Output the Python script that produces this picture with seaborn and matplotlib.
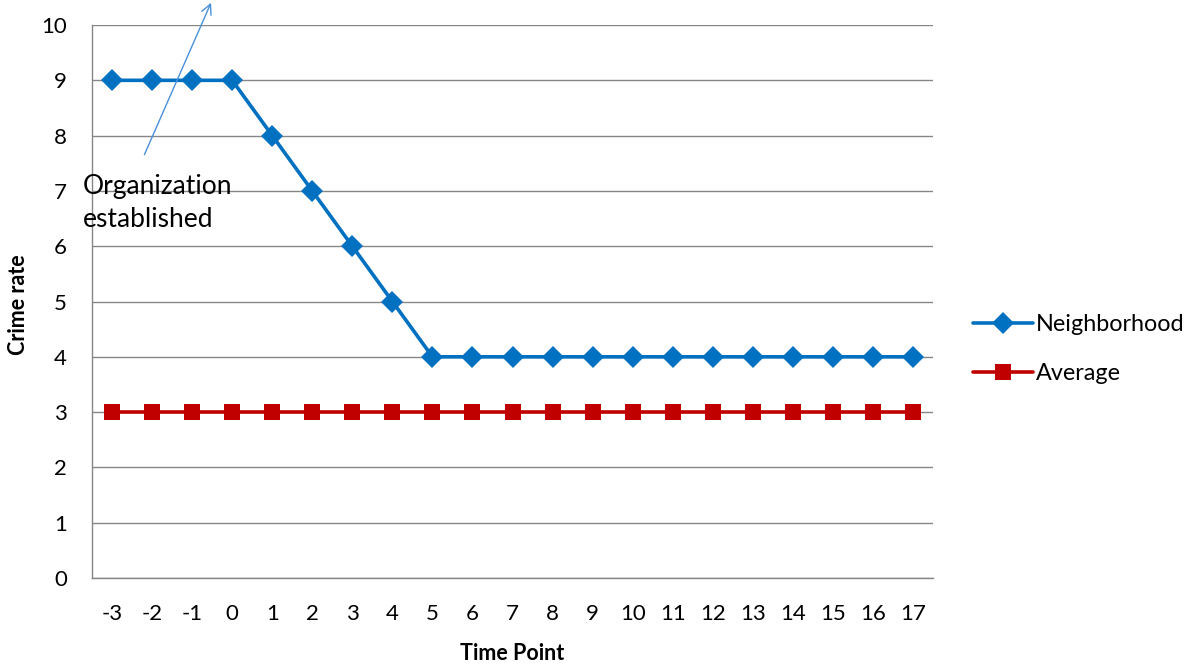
import matplotlib
matplotlib.use("Agg")
import matplotlib.pyplot as plt
import seaborn as sns
import pandas as pd

time_points = [-3, -2, -1, 0, 1, 2, 3, 4, 5, 6, 7, 8, 9, 10, 11, 12, 13, 14, 15, 16, 17]
neighborhood = [9, 9, 9, 9, 8, 7, 6, 5, 4, 4, 4, 4, 4, 4, 4, 4, 4, 4, 4, 4, 4]
average = [3] * 21
series_names = ["Neighborhood", "Average"]

sns.set_theme(style="white")
plt.rcParams['font.family'] = ['Lato', 'DejaVu Sans']
plt.rcParams['text.color'] = 'black'
plt.rcParams['axes.labelcolor'] = 'black'

df = pd.DataFrame({
    "Time Point": time_points * 2,
    "Crime rate": neighborhood + average,
    "Series": [series_names[0]] * len(time_points) + [series_names[1]] * len(time_points),
})

fig = plt.figure(figsize=(11.86, 6.71), dpi=100)
ax = fig.add_axes([0.0776, 0.1386, 0.7091, 0.8241])

palette = {"Neighborhood": "#0070C0", "Average": "#C00000"}
markers = {"Neighborhood": "D", "Average": "s"}
sns.lineplot(data=df, x="Time Point", y="Crime rate", hue="Series", style="Series",
             markers=markers, dashes=False, palette=palette, ax=ax,
             linewidth=2.6, markersize=11, markeredgewidth=0, legend=True)

ax.set_xlim(-3.5, 17.5)
ax.set_ylim(0, 10)
ax.set_yticks(range(0, 11))
ax.set_xticks(time_points)
ax.set_xticklabels([str(t) for t in time_points])
ax.grid(axis="y", color="#868686", linewidth=1)
ax.set_axisbelow(True)
for s in ["top", "right"]:
    ax.spines[s].set_visible(False)
for s in ["left", "bottom"]:
    ax.spines[s].set_color("#868686")
    ax.spines[s].set_linewidth(1)
ax.tick_params(axis="both", length=0, labelsize=16, colors="black")
ax.tick_params(axis="x", pad=19)
ax.tick_params(axis="y", pad=18)
ax.set_xlabel("Time Point", fontsize=15.5, fontweight="bold", color="black")
ax.set_ylabel("Crime rate", fontsize=15.5, fontweight="bold", color="black")
ax.xaxis.set_label_coords(0.4994, -0.136)
ax.yaxis.set_label_coords(-0.088, 0.494)
ax.xaxis.label.set_va("center")
ax.yaxis.label.set_va("center")

leg = ax.legend(loc="center left", bbox_to_anchor=(1.022, 0.414), frameon=False,
                fontsize=16.8, handlelength=2.6, handletextpad=0.1, labelspacing=1.18)
for t in leg.get_texts():
    t.set_color("black")

ax.annotate("", xy=(-0.5, 10.45), xytext=(-2.22, 7.61), xycoords="data",
            arrowprops=dict(arrowstyle="->", color="#4A90D9", linewidth=1, mutation_scale=18),
            annotation_clip=False)
ax.text(-3.73, 7.3, "Organization\nestablished", fontsize=19, ha="left", va="top",
        linespacing=1.38, clip_on=False, color="black")

fig.savefig("out.png", dpi=100)
